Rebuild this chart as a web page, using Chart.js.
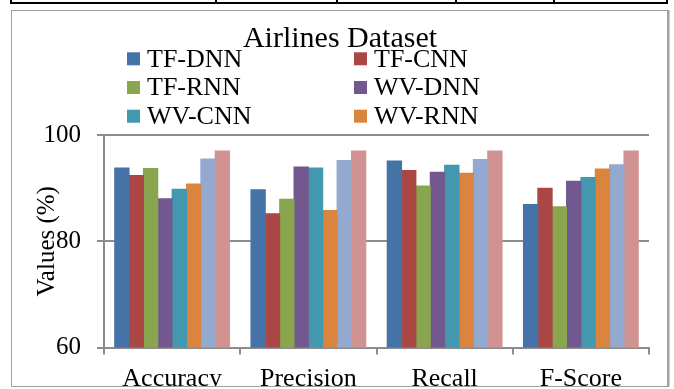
<!DOCTYPE html>
<html lang="en">
<head>
<meta charset="UTF-8">
<title>Airlines Dataset</title>
<script src="https://cdn.jsdelivr.net/npm/chart.js@4.4.0/dist/chart.umd.min.js"></script>
<style>
  html, body { margin: 0; padding: 0; background: #fff; overflow: hidden; }
  #page { position: relative; width: 674px; height: 389px; }
  .tbl-h { position: absolute; left: 10px; width: 658px; top: 2px; height: 2px; background: #000; }
  .tbl-v { position: absolute; top: 0; width: 2px; height: 4px; background: #000; }
  #clip { position: absolute; left: 0; top: 0; width: 674px; height: 387px; overflow: hidden; }
  #frame { position: absolute; left: 11px; top: 10px; width: 655px; height: 375px;
           border: 1px solid #a0a0a0; border-right: 2px solid #a0a0a0;
           box-shadow: 1px 0 0 #d0d0d0; pointer-events: none; }
  canvas { position: absolute; left: 0; top: 0; }
</style>
</head>
<body>
<div id="page">
  <div class="tbl-h"></div>
  <div class="tbl-v" style="left:10px"></div>
  <div class="tbl-v" style="left:215px"></div>
  <div class="tbl-v" style="left:336px"></div>
  <div class="tbl-v" style="left:455px"></div>
  <div class="tbl-v" style="left:553px"></div>
  <div class="tbl-v" style="left:666px"></div>
  <div id="clip">
    <canvas id="grafico" width="674" height="410"></canvas>
  </div>
  <div id="frame"></div>
</div>
<script>
  // dados do grafico
  const chartTitle = 'Airlines Dataset';
  const categories = ['Accuracy', 'Precision', 'Recall', 'F-Score'];
  const seriesNames = ['TF-DNN', 'TF-CNN', 'TF-RNN', 'WV-DNN', 'WV-CNN', 'WV-RNN', 'Series 7', 'Series 8'];
  const tfDnn   = [93.8, 89.7, 95.1, 86.9];
  const tfCnn   = [92.4, 85.2, 93.3, 90.0];
  const tfRnn   = [93.7, 87.9, 90.4, 86.5];
  const wvDnn   = [88.0, 94.0, 93.0, 91.3];
  const wvCnn   = [89.8, 93.8, 94.3, 92.0];
  const wvRnn   = [90.8, 85.8, 92.8, 93.6];
  const series7 = [95.5, 95.2, 95.4, 94.4];
  const series8 = [97.0, 97.0, 97.0, 97.0];
  const yTicks = [60, 80, 100];
  const legendCount = 6; // only the first six fit in the visible legend

  const colors = ['#4572A7', '#AA4643', '#89A54E', '#71588F', '#4198AF', '#DB843D', '#93A9CF', '#D19392'];
  const serif = "'Liberation Serif', 'Times New Roman', serif";
  const allSeries = [tfDnn, tfCnn, tfRnn, wvDnn, wvCnn, wvRnn, series7, series8];

  // titulo + legenda em duas colunas
  const headerPlugin = {
    id: 'header',
    afterDraw(chart) {
      const ctx = chart.ctx;
      ctx.save();
      ctx.fillStyle = '#000';
      ctx.textBaseline = 'alphabetic';
      ctx.font = '30px ' + serif;
      ctx.textAlign = 'center';
      ctx.fillText(chartTitle, 340, 47);
      ctx.font = '26px ' + serif;
      ctx.textAlign = 'left';
      chart.data.datasets.slice(0, legendCount).forEach((ds, i) => {
        const col = i % 2, row = Math.floor(i / 2);
        const x = col ? 354 : 127;
        const base = 66.7 + row * 28.7;
        ctx.fillStyle = ds.backgroundColor;
        ctx.fillRect(x, base - 14.4, 13, 13);
        ctx.fillStyle = '#000';
        ctx.fillText(ds.label, x + 20, base);
      });
      ctx.restore();
    }
  };

  new Chart(document.querySelector('#grafico'), {
    type: 'bar',
    data: {
      labels: categories,
      datasets: allSeries.map((d, i) => ({
        label: seriesNames[i],
        data: d,
        backgroundColor: colors[i],
        borderWidth: 0,
        inflateAmount: 0.5
      }))
    },
    options: {
      responsive: false,
      animation: false,
      devicePixelRatio: 1,
      datasets: { bar: { barPercentage: 1, categoryPercentage: 0.843 } },
      layout: { padding: { top: 135, right: 25, left: 0, bottom: 0 } },
      plugins: { legend: { display: false }, title: { display: false }, tooltip: { enabled: false } },
      scales: {
        x: {
          offset: true,
          grid: { offset: true, drawOnChartArea: false, drawTicks: true, tickLength: 7, color: '#8c8c8c', lineWidth: 2 },
          border: { color: '#8c8c8c', width: 2 },
          ticks: { color: '#000', font: { family: serif, size: 26 }, padding: 9, maxRotation: 0 },
          afterFit: s => { s.height = 410 - 347.5; }
        },
        y: {
          min: 60,
          max: 100,
          afterBuildTicks: s => { s.ticks = yTicks.map(v => ({ value: v })); },
          grid: { color: '#8c8c8c', lineWidth: 2, tickLength: 7 },
          border: { color: '#8c8c8c', width: 2 },
          ticks: { color: '#000', font: { family: serif, size: 25 }, padding: 16 },
          title: { display: true, text: 'Values (%)', color: '#000', font: { family: serif, size: 25 }, padding: { top: 32, bottom: 0 } },
          afterFit: s => { s.width = 104; }
        }
      }
    },
    plugins: [headerPlugin]
  });
</script>
</body>
</html>
